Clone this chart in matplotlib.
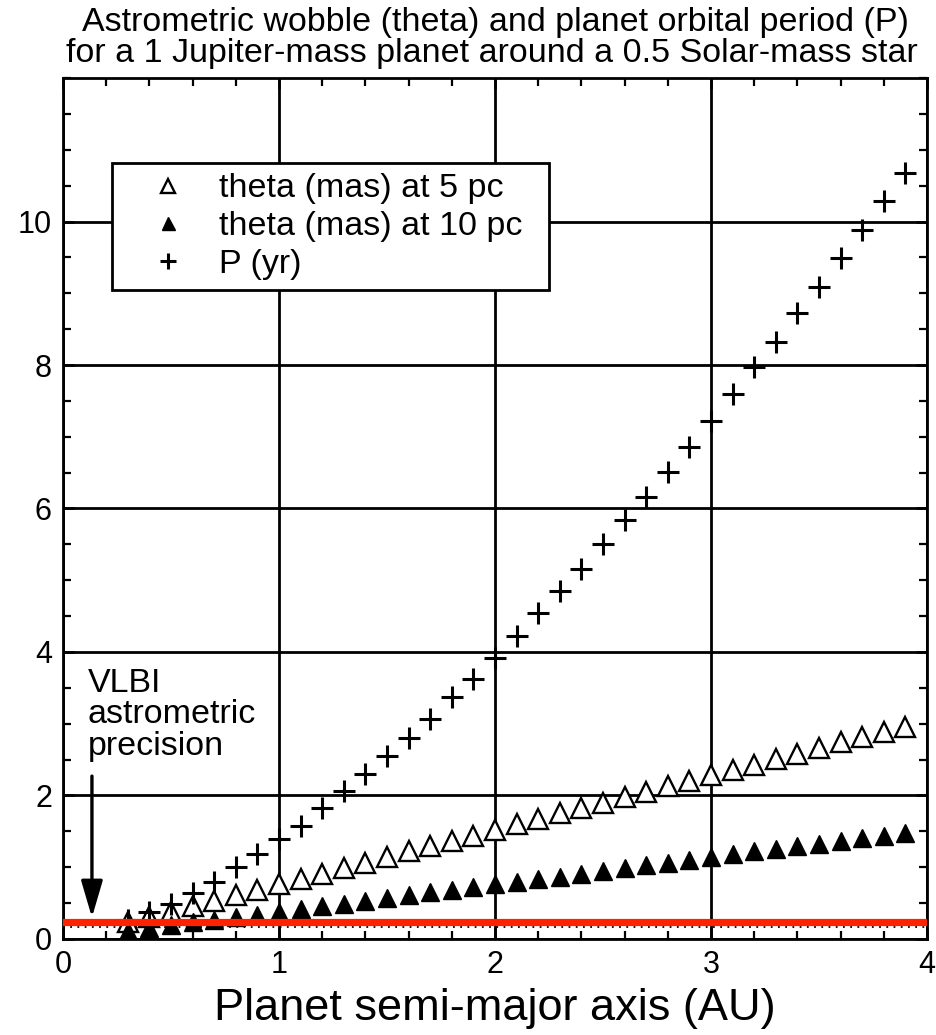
import matplotlib
matplotlib.use('Agg')
import matplotlib.pyplot as plt
from matplotlib.ticker import MultipleLocator

# planet semi-major axis (AU)
semimajor = [0.3, 0.4, 0.5, 0.6, 0.7, 0.8, 0.9, 1.0, 1.1, 1.2, 1.3, 1.4, 1.5,
             1.6, 1.7, 1.8, 1.9, 2.0, 2.1, 2.2, 2.3, 2.4, 2.5, 2.6, 2.7, 2.8,
             2.9, 3.0, 3.1, 3.2, 3.3, 3.4, 3.5, 3.6, 3.7, 3.8, 3.9]

# theta (mas) at 5 pc
theta_5pc = [0.23, 0.30, 0.38, 0.46, 0.53, 0.61, 0.68, 0.76, 0.84, 0.91, 0.99,
             1.06, 1.14, 1.22, 1.29, 1.37, 1.44, 1.52, 1.60, 1.67, 1.75, 1.82,
             1.90, 1.98, 2.05, 2.13, 2.20, 2.28, 2.36, 2.43, 2.51, 2.58, 2.66,
             2.74, 2.81, 2.89, 2.96]

# theta (mas) at 10 pc
theta_10pc = [0.11, 0.15, 0.19, 0.23, 0.27, 0.30, 0.34, 0.38, 0.42, 0.46, 0.49,
              0.53, 0.57, 0.61, 0.65, 0.68, 0.72, 0.76, 0.80, 0.84, 0.87, 0.91,
              0.95, 0.99, 1.03, 1.06, 1.10, 1.14, 1.18, 1.22, 1.25, 1.29, 1.33,
              1.37, 1.41, 1.44, 1.48]

# orbital period P (yr)
period = [0.26, 0.38, 0.49, 0.64, 0.80, 1.00, 1.19, 1.39, 1.57, 1.82, 2.06,
          2.30, 2.55, 2.80, 3.06, 3.37, 3.62, 3.91, 4.22, 4.54, 4.85, 5.15,
          5.50, 5.84, 6.16, 6.51, 6.86, 7.22, 7.59, 7.97, 8.32, 8.72, 9.09,
          9.49, 9.88, 10.28, 10.68]

vlbi_precision = 0.23
dotted_level = 0.17

plt.rcParams['font.family'] = ['Liberation Sans', 'DejaVu Sans']

fig = plt.figure(figsize=(9.36, 10.35), dpi=100)
ax = fig.add_axes([0.0673, 0.0928, 0.9231, 0.8318])

ax.plot(semimajor, theta_5pc, linestyle='none', marker='^', ms=14,
        mfc='white', mec='black', mew=1.7, label='theta (mas) at 5 pc', zorder=4)
ax.plot(semimajor, theta_10pc, linestyle='none', marker='^', ms=13,
        mfc='black', mec='black', mew=1.0, label='theta (mas) at 10 pc', zorder=4)
ax.plot(semimajor, period, linestyle='none', marker='+', ms=16,
        mec='black', mew=2.2, label='P (yr)', zorder=4)

# VLBI precision line
ax.axhline(dotted_level, color='black', lw=1.3, ls=(0, (1, 3)), zorder=3)
ax.axhline(vlbi_precision, color='#ff2200', lw=5.2, zorder=6)

ax.text(0.115, 3.78, 'VLBI\nastrometric\nprecision', fontsize=24.5,
        ha='left', va='top', linespacing=1.02, zorder=5)
ax.annotate('', xy=(0.134, 0.30), xytext=(0.134, 2.27),
            arrowprops=dict(arrowstyle='-|>,head_length=0.75,head_width=0.22',
                            color='black', lw=2.4, mutation_scale=30,
                            shrinkA=0, shrinkB=0),
            zorder=5)

ax.set_xlim(0, 4)
ax.set_ylim(0, 12)
ax.set_xticks([0, 1, 2, 3, 4])
ax.set_yticks([0, 2, 4, 6, 8, 10])
ax.xaxis.set_minor_locator(MultipleLocator(0.2))
ax.yaxis.set_minor_locator(MultipleLocator(0.5))
ax.tick_params(which='both', direction='in', top=True, right=True,
               labelsize=22, colors='black')
ax.tick_params(which='major', length=8, width=1.8, pad=8)
ax.tick_params(which='minor', length=6, width=1.6)
ax.grid(True, which='major', color='black', lw=2.0, zorder=1)
ax.set_axisbelow(True)
for s in ax.spines.values():
    s.set_linewidth(2.0)

ax.set_xlabel('Planet semi-major axis (AU)', fontsize=32.5, labelpad=6)

leg = ax.legend(loc='upper left', bbox_to_anchor=(0.0567, 0.5, 0.506, 0.401),
                mode='expand', borderaxespad=0, fontsize=24.5, frameon=True,
                fancybox=False, framealpha=1, edgecolor='black', numpoints=1,
                borderpad=0.3, handlelength=2.7, handletextpad=0.15,
                labelspacing=0.2, markerscale=0.72)
leg.get_frame().set_linewidth(2.0)
leg.set_zorder(7)

fig.text(0.529, 0.9785, 'Astrometric wobble (theta) and planet orbital period (P)',
         fontsize=24.5, ha='center', va='center')
fig.text(0.525, 0.9485, 'for a 1 Jupiter-mass planet around a 0.5 Solar-mass star',
         fontsize=24.5, ha='center', va='center')

fig.savefig('out.png', dpi=100, facecolor='white')
